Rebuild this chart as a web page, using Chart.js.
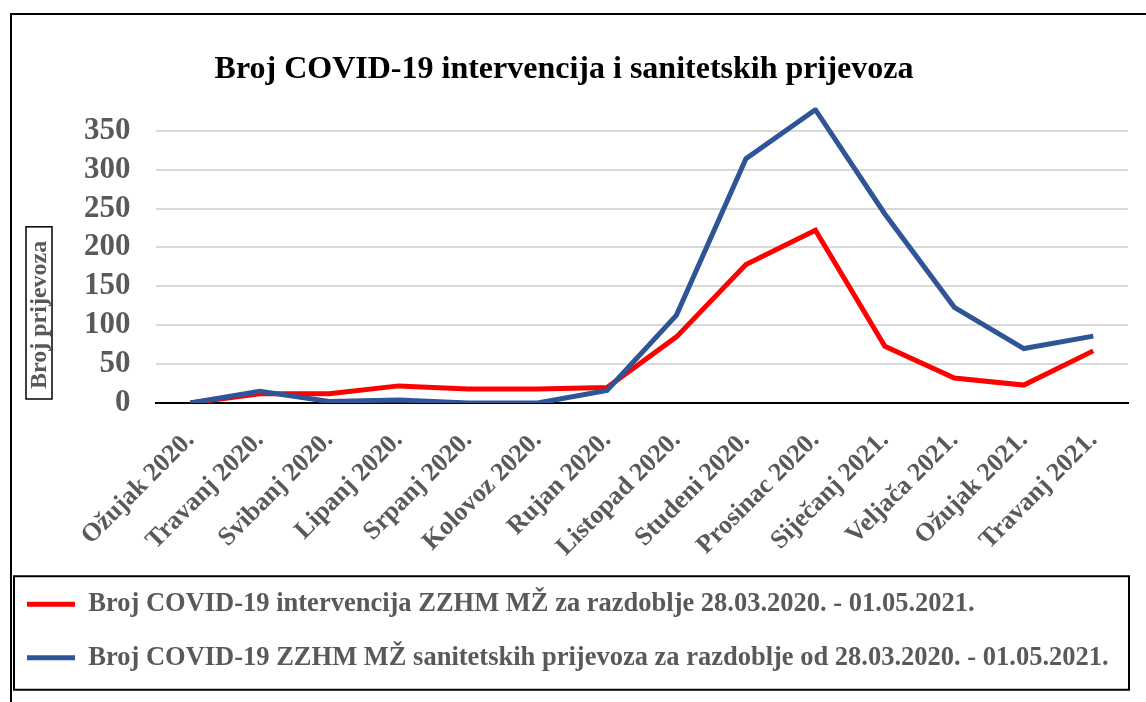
<!DOCTYPE html>
<html>
<head>
<meta charset="utf-8">
<title>Broj COVID-19 intervencija i sanitetskih prijevoza</title>
<script src="https://cdn.jsdelivr.net/npm/chart.js@4.4.0/dist/chart.umd.min.js"></script>
<style>
  html, body { margin: 0; padding: 0; background: #fff; overflow: hidden; }
  #wrap { position: relative; width: 1146px; height: 702px; }
  #frame {
    position: absolute; left: 10px; top: 13px; width: 1160px; height: 720px;
    border: 2px solid #000; box-sizing: border-box; pointer-events: none;
  }
</style>
</head>
<body>
<div id="wrap">
  <canvas id="chart" width="1146" height="702"></canvas>
  <div id="frame"></div>
</div>
<script>
// podaci po mjesecima
const months = ['Ožujak 2020.', 'Travanj 2020.', 'Svibanj 2020.', 'Lipanj 2020.', 'Srpanj 2020.',
  'Kolovoz 2020.', 'Rujan 2020.', 'Listopad 2020.', 'Studeni 2020.', 'Prosinac 2020.',
  'Siječanj 2021.', 'Veljača 2021.', 'Ožujak 2021.', 'Travanj 2021.'];
const intervencije = [0, 12, 12, 22, 18, 18, 20, 85, 178, 222, 73, 32, 23, 67];
const prijevozi = [0, 15, 2, 4, 0, 0, 16, 113, 314, 377, 243, 123, 70, 86];
const yTicks = [0, 50, 100, 150, 200, 250, 300, 350];

const serif = "'Liberation Serif', 'Times New Roman', serif";
const grey = '#595959';
const yTitleText = 'Broj prijevoza';
const yTitleFont = 24;
const yTitleSpace = 59;   // mjesto lijevo od oznaka y osi za naslov

// naslov y osi u okviru i okvir oko legende
const boxes = {
  id: 'boxes',
  afterDraw(chart) {
    const ctx = chart.ctx;
    const ys = chart.scales.y;
    ctx.save();
    ctx.font = 'bold ' + yTitleFont + 'px ' + serif;
    const w = ctx.measureText(yTitleText).width;
    const cx = ys.left + 39;
    const y0 = ys.bottom - 14;
    ctx.translate(cx, y0);
    ctx.rotate(-Math.PI / 2);
    ctx.fillStyle = grey;
    ctx.textAlign = 'left';
    ctx.textBaseline = 'middle';
    ctx.fillText(yTitleText, 0, 1);
    ctx.strokeStyle = '#000';
    ctx.lineWidth = 1.5;
    ctx.strokeRect(-10, -13, w + 24, 26);
    ctx.restore();

    const lg = chart.legend;
    const hb = lg.legendHitBoxes;
    const r1 = hb[0].top + hb[0].height / 2;
    const r2 = hb[hb.length - 1].top + hb[hb.length - 1].height / 2;
    ctx.save();
    ctx.strokeStyle = '#000';
    ctx.lineWidth = 2;
    ctx.strokeRect(lg.left + 14, r1 - 28, lg.right - lg.left - 13, r2 - r1 + 60);
    ctx.restore();
  }
};

const ctx = document.getElementById('chart').getContext('2d');
new Chart(ctx, {
  type: 'line',
  data: {
    labels: months,
    datasets: [{
      label: 'Broj COVID-19 intervencija ZZHM MŽ za razdoblje 28.03.2020. - 01.05.2021.',
      data: intervencije,
      borderColor: '#FF0000',
      backgroundColor: '#FF0000',
      borderWidth: 5,
      pointRadius: 0,
      tension: 0,
      order: 1
    }, {
      label: 'Broj COVID-19 ZZHM MŽ sanitetskih prijevoza za razdoblje od 28.03.2020. - 01.05.2021.',
      data: prijevozi,
      borderColor: '#2F5597',
      backgroundColor: '#2F5597',
      borderWidth: 5,
      pointRadius: 0,
      tension: 0,
      order: 0
    }]
  },
  options: {
    responsive: false,
    animation: false,
    layout: { padding: { left: 0, right: 18, top: 30, bottom: 21 } },
    plugins: {
      title: {
        display: true,
        text: 'Broj COVID-19 intervencija i sanitetskih prijevoza',
        color: '#000',
        font: { family: serif, size: 32, weight: 'bold' },
        padding: { top: 21, bottom: 18 }
      },
      legend: {
        position: 'bottom',
        align: 'start',
        labels: {
          color: grey,
          font: { family: serif, size: 26.5, weight: 'bold' },
          usePointStyle: true,
          pointStyle: 'line',
          pointStyleWidth: 48,
          padding: 27,
          sort: (a, b) => a.datasetIndex - b.datasetIndex
        }
      },
      tooltip: { enabled: false }
    },
    scales: {
      x: {
        offset: true,
        grid: { display: false },
        border: { display: true, color: '#000', width: 2 },
        afterFit: (axis) => { axis.paddingLeft = 0; axis.height = 161; },
        ticks: {
          color: grey,
          font: { family: serif, size: 26, weight: 'bold' },
          maxRotation: 45,
          minRotation: 45,
          padding: 14,
          autoSkip: false
        }
      },
      y: {
        min: 0,
        max: 380,
        border: { display: false },
        grid: { color: '#D9D9D9', lineWidth: 2, drawTicks: false },
        afterBuildTicks: (axis) => { axis.ticks = yTicks.map(v => ({ value: v })); },
        afterFit: (axis) => { axis.width += yTitleSpace; },
        ticks: {
          color: grey,
          font: { family: serif, size: 31, weight: 'bold' },
          padding: 25
        }
      }
    }
  },
  plugins: [boxes]
});
</script>
</body>
</html>
